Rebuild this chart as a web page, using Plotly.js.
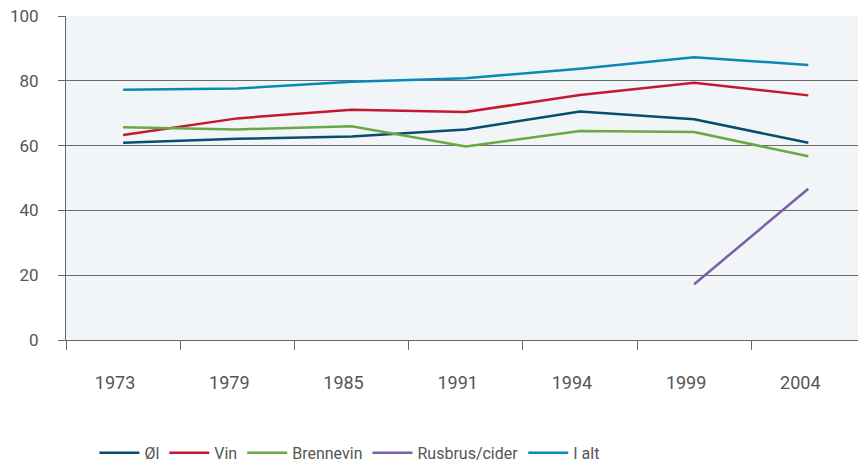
<!DOCTYPE html>
<html>
<head>
<meta charset="utf-8">
<script src="https://cdn.plot.ly/plotly-3.0.1.min.js"></script>
<style>html,body{margin:0;padding:0;background:#fff;}#chart{width:858px;height:462px;}</style>
</head>
<body>
<div id="chart"></div>
<script>
const years = ["1973", "1979", "1985", "1991", "1994", "1999", "2004"];
const ol = [60.9, 62.1, 62.8, 65.0, 70.5, 68.1, 60.9];
const vin = [63.3, 68.4, 71.1, 70.4, 75.6, 79.4, 75.5];
const brennevin = [65.7, 65.0, 66.0, 59.7, 64.5, 64.2, 56.7];
const rusbrus = [null, null, null, null, null, 17.2, 46.7];
const ialt = [77.2, 77.6, 79.7, 80.8, 83.7, 87.3, 84.9];

const seriesNames = ["Øl", "Vin", "Brennevin", "Rusbrus/cider", "I alt"];
const seriesData = [ol, vin, brennevin, rusbrus, ialt];
const colors = ["#064d6e", "#c4182f", "#68a945", "#7b5ea7", "#0b88b6"];

const traces = seriesData.map((d, i) => ({
  x: years, y: d, name: seriesNames[i], type: "scatter", mode: "lines",
  line: {color: colors[i], width: 2.5}, connectgaps: false
}));

const layout = {
  width: 858, height: 462,
  margin: {l: 66, r: 0, t: 16, b: 122},
  paper_bgcolor: "#ffffff",
  plot_bgcolor: "#f1f5f8",
  font: {family: "Roboto, 'DejaVu Sans Condensed', sans-serif", size: 16, color: "#555"},
  showlegend: true,
  legend: {orientation: "h", xref: "container", yref: "container",
           x: 0.11, xanchor: "left", y: 0.02, yanchor: "middle",
           font: {size: 16, color: "#555"}, traceorder: "normal", itemwidth: 40},
  xaxis: {
    type: "category", range: [-0.5, 6.435],
    showgrid: false, showline: true, linecolor: "#666", linewidth: 1,
    ticks: "outside", tickson: "boundaries", ticklen: 9, tickcolor: "#666",
    ticklabelstandoff: 26, ticklabelshift: -8,
    tickfont: {size: 18, color: "#555"}, zeroline: false
  },
  yaxis: {
    range: [0, 100], tickvals: [0, 20, 40, 60, 80, 100],
    showgrid: true, gridcolor: "#6a6a6a", gridwidth: 1,
    showline: true, linecolor: "#666", linewidth: 1,
    ticks: "outside", ticklen: 7, tickcolor: "#666",
    ticklabelstandoff: 16,
    tickfont: {size: 17, color: "#555"}, zeroline: false
  }
};

Plotly.newPlot("chart", traces, layout, {displayModeBar: false});
</script>
</body>
</html>
